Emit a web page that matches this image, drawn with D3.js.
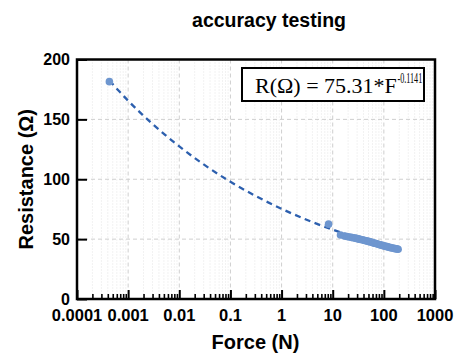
<!DOCTYPE html>
<html><head><meta charset="utf-8">
<script src="https://cdn.jsdelivr.net/npm/d3@7"></script>
<style>body{margin:0;background:#fff}svg{display:block}</style>
</head><body>
<script>
// ---- data ----
const outlierForce = [0.00043, 8.3];
const outlierRes = [181.5, 62.5];
const clusterForce = [14.2,17,19,21,23,25,27,29,31,33,35,38,41,44,47,50,54,58,62,66,70,75,80,85,90,96,102,108,115,122,130,138,146,155,164,173,182,190];
const clusterRes = [53.4,52.6,52.2,51.8,51.5,51.2,50.9,50.6,50.3,50.0,49.7,49.4,49.0,48.7,48.4,48.1,47.7,47.3,46.9,46.6,46.3,45.9,45.5,45.2,44.9,44.6,44.3,44.0,43.7,43.4,43.1,42.8,42.6,42.3,42.1,41.9,41.7,41.5];
const fitForce = [0.00043,0.001,0.003,0.01,0.03,0.1,0.3,1,3,10,20,50,100,190];
const fitRes = [182.4,165.6,146.1,127.4,112.4,97.9,86.4,75.3,66.4,57.9,53.5,48.2,44.5,41.4];
const xTickValues = [0.0001,0.001,0.01,0.1,1,10,100,1000];
const xTickLabels = ["0.0001","0.001","0.01","0.1","1","10","100","1000"];
const yTickValues = [0,50,100,150,200];
const titleText = "accuracy testing";
const xTitle = "Force (N)";
const yTitle = "Resistance (Ω)";
const eqMain = "R(Ω) = 75.31*F";
const eqExp = "-0.1141";

// ---- layout ----
const W = 458, H = 356;
const L = 77, R = 435, T = 59.5, B = 299;
const font = "'Liberation Sans', Arial, sans-serif";

const svg = d3.select("body").append("svg").attr("width", W).attr("height", H);
const x = d3.scaleLog().domain([1e-4, 1e3]).range([L, R]);
const y = d3.scaleLinear().domain([0, 200]).range([B, T]);

const minorX = [];
for (let e = -4; e < 3; e++) for (let k = 2; k <= 9; k++) minorX.push(k * Math.pow(10, e));

const grid = svg.append("g");
grid.selectAll(".mx").data(minorX).enter().append("line")
  .attr("x1", d => x(d)).attr("x2", d => x(d)).attr("y1", T).attr("y2", B)
  .attr("stroke", "#e4e4e4").attr("stroke-width", 1).attr("stroke-dasharray", "1,2");
grid.selectAll(".Mx").data(xTickValues.slice(1, -1)).enter().append("line")
  .attr("x1", d => x(d)).attr("x2", d => x(d)).attr("y1", T).attr("y2", B)
  .attr("stroke", "#cfcfcf").attr("stroke-width", 1).attr("stroke-dasharray", "4,3");
grid.selectAll(".My").data(yTickValues.slice(1, -1)).enter().append("line")
  .attr("x1", L).attr("x2", R).attr("y1", d => y(d)).attr("y2", d => y(d))
  .attr("stroke", "#cfcfcf").attr("stroke-width", 1).attr("stroke-dasharray", "4,3");

// fit line
const line = d3.line().x((d, i) => x(fitForce[i])).y((d, i) => y(fitRes[i])).curve(d3.curveMonotoneX);
svg.append("path").datum(fitRes).attr("d", line)
  .attr("fill", "none").attr("stroke", "#2c5fae").attr("stroke-width", 2.3)
  .attr("stroke-dasharray", "6,4.5");

// points
const pts = outlierForce.map((f, i) => [f, outlierRes[i]])
  .concat(clusterForce.map((f, i) => [f, clusterRes[i]]));
svg.append("g").selectAll("circle").data(pts).enter().append("circle")
  .attr("cx", d => x(d[0])).attr("cy", d => y(d[1])).attr("r", 3.8)
  .attr("fill", "#6e96cf");

// axes with inward ticks
const gxM = svg.append("g").attr("transform", `translate(0,${B})`)
  .call(d3.axisTop(x).tickValues(xTickValues).tickSize(9).tickFormat(""));
gxM.select(".domain").remove();
gxM.selectAll("line").attr("stroke", "#000").attr("stroke-width", 2);
const gxm = svg.append("g").attr("transform", `translate(0,${B})`)
  .call(d3.axisTop(x).tickValues(minorX).tickSize(5).tickFormat(""));
gxm.select(".domain").remove();
gxm.selectAll("line").attr("stroke", "#000").attr("stroke-width", 1.6);

const gy = svg.append("g").attr("transform", `translate(${L},0)`)
  .call(d3.axisRight(y).tickValues(yTickValues).tickSize(10).tickFormat(""));
gy.select(".domain").remove();
gy.selectAll("line").attr("stroke", "#000").attr("stroke-width", 2);

// frame
svg.append("rect").attr("x", L).attr("y", T).attr("width", R - L).attr("height", B - T)
  .attr("fill", "none").attr("stroke", "#000").attr("stroke-width", 2.5);

// tick labels
svg.append("g").selectAll("text").data(xTickValues).enter().append("text")
  .attr("x", d => x(d)).attr("y", 321.3).attr("text-anchor", "middle")
  .attr("font-family", font).attr("font-weight", "bold").attr("font-size", 16.5)
  .text((d, i) => xTickLabels[i]);
svg.append("g").selectAll("text").data(yTickValues).enter().append("text")
  .attr("x", 70).attr("y", d => y(d)).attr("dy", "0.36em").attr("text-anchor", "end")
  .attr("font-family", font).attr("font-weight", "bold").attr("font-size", 16)
  .text(d => d);

// titles
svg.append("text").attr("x", 269).attr("y", 27.3).attr("text-anchor", "middle")
  .attr("font-family", font).attr("font-weight", "bold").attr("font-size", 19.5).text(titleText);
svg.append("text").attr("x", 255.5).attr("y", 349).attr("text-anchor", "middle")
  .attr("font-family", font).attr("font-weight", "bold").attr("font-size", 20).text(xTitle);
svg.append("text").attr("transform", `translate(32.5,${(T + B) / 2}) rotate(-90)`)
  .attr("text-anchor", "middle")
  .attr("font-family", font).attr("font-weight", "bold").attr("font-size", 20).text(yTitle);

// equation box
svg.append("rect").attr("x", 242).attr("y", 68).attr("width", 182).attr("height", 33)
  .attr("fill", "#fff").attr("stroke", "#000").attr("stroke-width", 2);
svg.append("text").attr("x", 255).attr("y", 93.3)
  .attr("font-family", "'Liberation Serif', 'Times New Roman', serif").attr("font-size", 22)
  .text(eqMain);
svg.append("text").attr("transform", "translate(397.5,82.5) scale(0.58,1)")
  .attr("font-family", "'Liberation Serif', 'Times New Roman', serif").attr("font-size", 14)
  .text(eqExp);
</script>
</body></html>
